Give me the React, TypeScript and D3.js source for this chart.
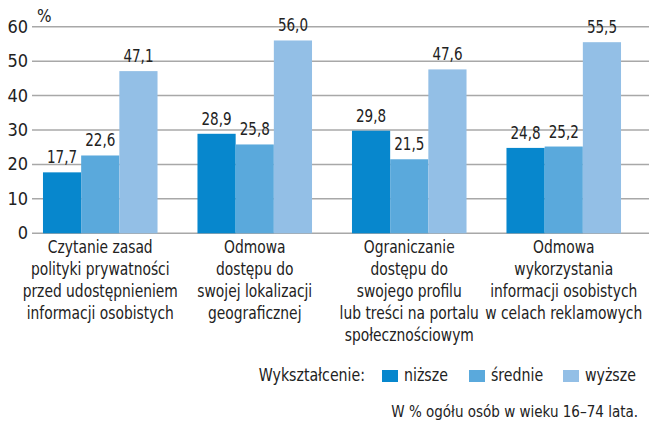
import React from "react";
import * as d3 from "d3";

const categories: string[][] = [
  ["Czytanie zasad", "polityki prywatności", "przed udostępnieniem", "informacji osobistych"],
  ["Odmowa", "dostępu do", "swojej lokalizacji", "geograficznej"],
  ["Ograniczanie", "dostępu do", "swojego profilu", "lub treści na portalu", "społecznościowym"],
  ["Odmowa", "wykorzystania", "informacji osobistych", "w celach reklamowych"],
];
const seriesNames = ["niższe", "średnie", "wyższe"];
const nizsze = [17.7, 28.9, 29.8, 24.8];
const srednie = [22.6, 25.8, 21.5, 25.2];
const wyzsze = [47.1, 56.0, 47.6, 55.5];
const yTicks = [0, 10, 20, 30, 40, 50, 60];
const colors = ["#0787cd", "#5aa9dc", "#93bfe6"];

const W = 649;
const H = 422;
const FONT = "'Liberation Sans Narrow', 'DejaVu Sans Condensed', 'Roboto Condensed', sans-serif";

function Txt(props: {
  x: number;
  y: number;
  sx?: number;
  size: number;
  anchor?: string;
  children: React.ReactNode;
}) {
  const { x, y, sx = 1, size, anchor = "start", children } = props;
  return (
    <text
      transform={`translate(${x},${y}) scale(${sx},1)`}
      textAnchor={anchor as any}
      fontSize={size}
      fill="#222"
    >
      {children}
    </text>
  );
}

export default function App() {
  const series = [nizsze, srednie, wyzsze];
  const y = d3.scaleLinear().domain([0, 60]).range([233.3, 26.7]);
  const x0 = d3
    .scaleBand<number>()
    .domain(d3.range(categories.length))
    .range([23, 641])
    .paddingInner(0.2586)
    .paddingOuter(0.1293);
  const x1 = d3.scaleBand<number>().domain([0, 1, 2]).range([0, x0.bandwidth()]);
  const fmt = (v: number) => v.toFixed(1).replace(".", ",");

  return (
    <svg
      width={W}
      height={H}
      style={{ position: "absolute", left: 0, top: 0, background: "#fff" }}
      fontFamily={FONT}
    >
      {yTicks.map((t) => (
        <g key={t}>
          <line x1={32} x2={649} y1={y(t)} y2={y(t)} stroke="#a8a8a8" strokeWidth={1.5} />
          <Txt x={28} y={y(t) + 6} size={18} anchor="end">
            {t}
          </Txt>
        </g>
      ))}
      <Txt x={37} y={22} size={17}>
        %
      </Txt>
      {categories.map((cat, i) => (
        <g key={i} transform={`translate(${x0(i)},0)`}>
          {series.map((s, j) => (
            <g key={j}>
              <rect
                x={x1(j)}
                y={y(s[i])}
                width={x1.bandwidth()}
                height={y(0) - y(s[i])}
                fill={colors[j]}
              />
              <Txt
                x={(x1(j) as number) + x1.bandwidth() / 2}
                y={y(s[i]) - 9}
                anchor="middle"
                size={17.5}
                sx={0.86}
              >
                {fmt(s[i])}
              </Txt>
            </g>
          ))}
          {cat.map((line, k) => (
            <Txt
              key={k}
              x={x0.bandwidth() / 2}
              y={253 + k * 22}
              anchor="middle"
              size={17.5}
              sx={0.88}
            >
              {line}
            </Txt>
          ))}
        </g>
      ))}
      <g>
        <Txt x={365} y={381} anchor="end" size={17.5} sx={0.9}>
          Wykształcenie:
        </Txt>
        {seriesNames.map((n, j) => {
          const lx = [382, 469, 563][j];
          return (
            <g key={n}>
              <rect x={lx} y={370} width={16} height={12} fill={colors[j]} />
              <Txt x={lx + 22} y={381} size={17.5} sx={0.9}>
                {n}
              </Txt>
            </g>
          );
        })}
      </g>
      <Txt x={638} y={417} anchor="end" size={15}>
        W % ogółu osób w wieku 16–74 lata.
      </Txt>
    </svg>
  );
}
